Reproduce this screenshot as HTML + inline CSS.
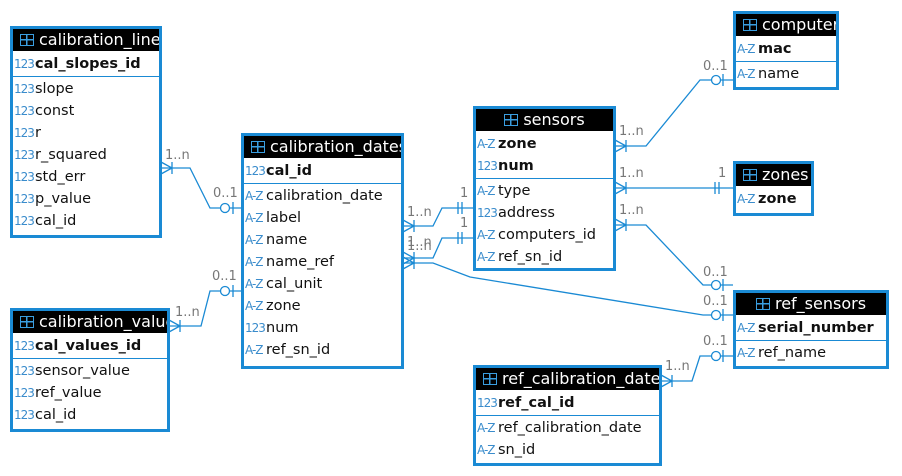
<!DOCTYPE html>
<html><head><meta charset="utf-8"><style>
body{margin:0;width:902px;height:476px;background:#fff;position:relative;overflow:hidden;font-family:"DejaVu Sans","Liberation Sans",sans-serif;}
.t{position:absolute;border:3px solid #1a8ad4;background:#fff;box-sizing:border-box;overflow:hidden;}
.h{background:#000;color:#fff;height:22px;font-size:16px;line-height:22px;white-space:nowrap;padding-left:7px;overflow:hidden;margin-bottom:2px;}
.h .ic{display:inline-block;width:14px;height:12px;border:1.5px solid #3a9ee0;vertical-align:-1px;margin-right:5px;box-sizing:border-box;background:linear-gradient(#3a9ee0,#3a9ee0) 0 4px/100% 1.5px no-repeat,linear-gradient(#3a9ee0,#3a9ee0) 5px 0/1.5px 100% no-repeat;}
.r{height:22px;line-height:22px;font-size:14.5px;color:#111;white-space:nowrap;padding-left:1px;}
.r i{font-style:normal;font-weight:normal;font-size:12px;color:#3a8ccc;display:inline-block;width:21px;text-align:left;vertical-align:0;letter-spacing:-1px;}
.pk{font-weight:bold;}
.sep{border-top:1px solid #1a8ad4;margin:1px 0 1px;}
svg{position:absolute;left:0;top:0;}
.lb{position:absolute;font-size:13px;color:#777;}
</style></head><body>
<svg width="902" height="476">
<g stroke="#1a8ad4" stroke-width="1.3" fill="none">
<polyline points="161,168 190,168 210,208 241,208"/>
<path d="M161,162 L172,168 L161,174 M172,162 V174"/>
<circle cx="225" cy="208" r="4.5" fill="#fff"/><path d="M233,202 V214"/>
<polyline points="169,326 201,326 210,291 241,291"/>
<path d="M169,320 L180,326 L169,332 M180,320 V332"/>
<circle cx="225" cy="291" r="4.5" fill="#fff"/><path d="M233,285 V297"/>
<polyline points="403,226 433,226 442,208 473,208"/>
<path d="M403,220 L414,226 L403,232 M414,220 V232 M458,202 V214 M462,202 V214"/>
<polyline points="403,258 433,258 442,238 473,238"/>
<path d="M403,252 L414,258 L403,264 M414,252 V264 M458,232 V244 M462,232 V244"/>
<polyline points="403,263 433,263 470,277 703,315 733,315"/>
<path d="M403,257 L414,263 L403,269 M414,257 V269"/>
<circle cx="716" cy="315" r="4.5" fill="#fff"/><path d="M723,309 V321"/>
<polyline points="615,146 646,146 700,80 733,80"/>
<path d="M615,140 L626,146 L615,152 M626,140 V152"/>
<circle cx="716" cy="80" r="4.5" fill="#fff"/><path d="M723,74 V86"/>
<polyline points="615,188 733,188"/>
<path d="M615,182 L626,188 L615,194 M626,182 V194 M715,182 V194 M719,182 V194"/>
<polyline points="615,225 646,225 703,285 733,285"/>
<path d="M615,219 L626,225 L615,231 M626,219 V231"/>
<circle cx="716" cy="285" r="4.5" fill="#fff"/><path d="M723,279 V291"/>
<polyline points="661,381 692,381 700,356 733,356"/>
<path d="M661,375 L672,381 L661,387 M672,375 V387"/>
<circle cx="716" cy="356" r="4.5" fill="#fff"/><path d="M723,350 V362"/>
</g></svg>
<div class="lb" style="left:165px;top:148px">1..n</div>
<div class="lb" style="left:213px;top:186px">0..1</div>
<div class="lb" style="left:175px;top:305px">1..n</div>
<div class="lb" style="left:212px;top:269px">0..1</div>
<div class="lb" style="left:407px;top:205px">1..n</div>
<div class="lb" style="left:460px;top:186px">1</div>
<div class="lb" style="left:407px;top:235px">1..n</div>
<div class="lb" style="left:407px;top:239px">1..n</div>
<div class="lb" style="left:460px;top:216px">1</div>
<div class="lb" style="left:619px;top:124px">1..n</div>
<div class="lb" style="left:703px;top:59px">0..1</div>
<div class="lb" style="left:619px;top:166px">1..n</div>
<div class="lb" style="left:718px;top:166px">1</div>
<div class="lb" style="left:619px;top:203px">1..n</div>
<div class="lb" style="left:703px;top:265px">0..1</div>
<div class="lb" style="left:703px;top:294px">0..1</div>
<div class="lb" style="left:665px;top:359px">1..n</div>
<div class="lb" style="left:703px;top:334px">0..1</div>

<div class="t" style="left:10px;top:26px;width:152px;height:212px">
<div class="h"><span class="ic"></span>calibration_line</div>
<div class="r pk"><i>123</i>cal_slopes_id</div><div class="sep"></div>
<div class="r"><i>123</i>slope</div><div class="r"><i>123</i>const</div><div class="r"><i>123</i>r</div><div class="r"><i>123</i>r_squared</div><div class="r"><i>123</i>std_err</div><div class="r"><i>123</i>p_value</div><div class="r"><i>123</i>cal_id</div>
</div>
<div class="t" style="left:241px;top:133px;width:163px;height:236px">
<div class="h"><span class="ic"></span>calibration_dates</div>
<div class="r pk"><i>123</i>cal_id</div><div class="sep"></div>
<div class="r"><i>A-Z</i>calibration_date</div><div class="r"><i>A-Z</i>label</div><div class="r"><i>A-Z</i>name</div><div class="r"><i>A-Z</i>name_ref</div><div class="r"><i>A-Z</i>cal_unit</div><div class="r"><i>A-Z</i>zone</div><div class="r"><i>123</i>num</div><div class="r"><i>A-Z</i>ref_sn_id</div>
</div>
<div class="t" style="left:473px;top:106px;width:143px;height:165px">
<div class="h" style="text-align:center;padding-left:0"><span class="ic"></span>sensors</div>
<div class="r pk"><i>A-Z</i>zone</div><div class="r pk"><i>123</i>num</div><div class="sep"></div>
<div class="r"><i>A-Z</i>type</div><div class="r"><i>123</i>address</div><div class="r"><i>A-Z</i>computers_id</div><div class="r"><i>A-Z</i>ref_sn_id</div>
</div>
<div class="t" style="left:733px;top:11px;width:106px;height:79px">
<div class="h"><span class="ic"></span>computers</div>
<div class="r pk"><i>A-Z</i>mac</div><div class="sep"></div><div class="r"><i>A-Z</i>name</div>
</div>
<div class="t" style="left:733px;top:161px;width:81px;height:55px">
<div class="h"><span class="ic"></span>zones</div>
<div class="r pk"><i>A-Z</i>zone</div>
</div>
<div class="t" style="left:10px;top:308px;width:160px;height:124px">
<div class="h"><span class="ic"></span>calibration_value</div>
<div class="r pk"><i>123</i>cal_values_id</div><div class="sep"></div>
<div class="r"><i>123</i>sensor_value</div><div class="r"><i>123</i>ref_value</div><div class="r"><i>123</i>cal_id</div>
</div>
<div class="t" style="left:733px;top:290px;width:156px;height:79px">
<div class="h" style="text-align:center;padding-left:0"><span class="ic"></span>ref_sensors</div>
<div class="r pk"><i>A-Z</i>serial_number</div><div class="sep"></div><div class="r"><i>A-Z</i>ref_name</div>
</div>
<div class="t" style="left:473px;top:365px;width:189px;height:101px">
<div class="h"><span class="ic"></span>ref_calibration_date</div>
<div class="r pk"><i>123</i>ref_cal_id</div><div class="sep"></div>
<div class="r"><i>A-Z</i>ref_calibration_date</div><div class="r"><i>A-Z</i>sn_id</div>
</div>
</body></html>
